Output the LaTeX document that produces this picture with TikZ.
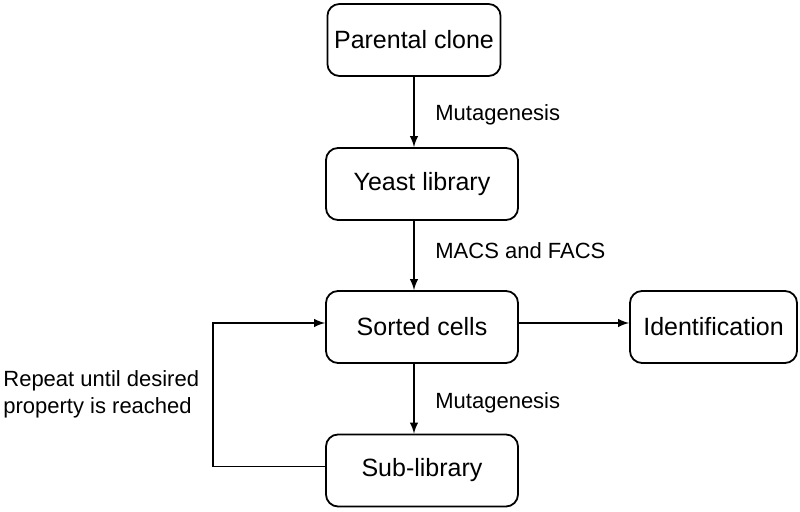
\documentclass[tikz,border=0pt]{standalone}
\usepackage{fontspec}
\setmainfont{Liberation Sans}

\begin{document}
\begin{tikzpicture}[x=0.5pt,y=-0.5pt,
    stage/.style={draw,line width=0.9pt,rounded corners=6pt,
      minimum width=96pt,minimum height=36pt,
      font=\fontsize{12.5}{15}\selectfont},
    note/.style={anchor=west,inner sep=0pt,align=left,
      font=\fontsize{11}{13.5}\selectfont},
    flow/.style={line width=0.9pt,-latex}]
  \useasboundingbox (0,0) rectangle (800,512);
  % main column
  \node[stage,minimum width=86pt] (parent) at (414,40) {Parental clone};
  \node[stage] (yeast) at (422,184) {Yeast library};
  \node[stage] (sorted) at (422,327) {Sorted cells};
  \node[stage] (sub) at (422,470.5) {Sub-library};
  \node[stage,minimum width=83.5pt] (ident) at (713.5,327) {Identification};
  % steps
  \draw[flow] (parent.south) -- (parent.south |- yeast.north);
  \draw[flow] (parent.south |- yeast.south) -- (parent.south |- sorted.north);
  \draw[flow] (parent.south |- sorted.south) -- (parent.south |- sub.north);
  \draw[flow] ([yshift=2pt]sorted.east) -- ([yshift=2pt]sorted.east -| ident.west);
  \draw[flow] ([yshift=2pt]sub.west) -- ++(-112,0) |- ([yshift=2pt]sorted.west);
  \node[note] (mut1) at (435,115) {Mutagenesis};
  \node[note] (sort) at (435,251) {MACS and FACS};
  \node[note] (mut2) at (435,403) {Mutagenesis};
  \node[note] (repeat) at (3,394) {Repeat until desired\\property is reached};
\end{tikzpicture}
\end{document}
